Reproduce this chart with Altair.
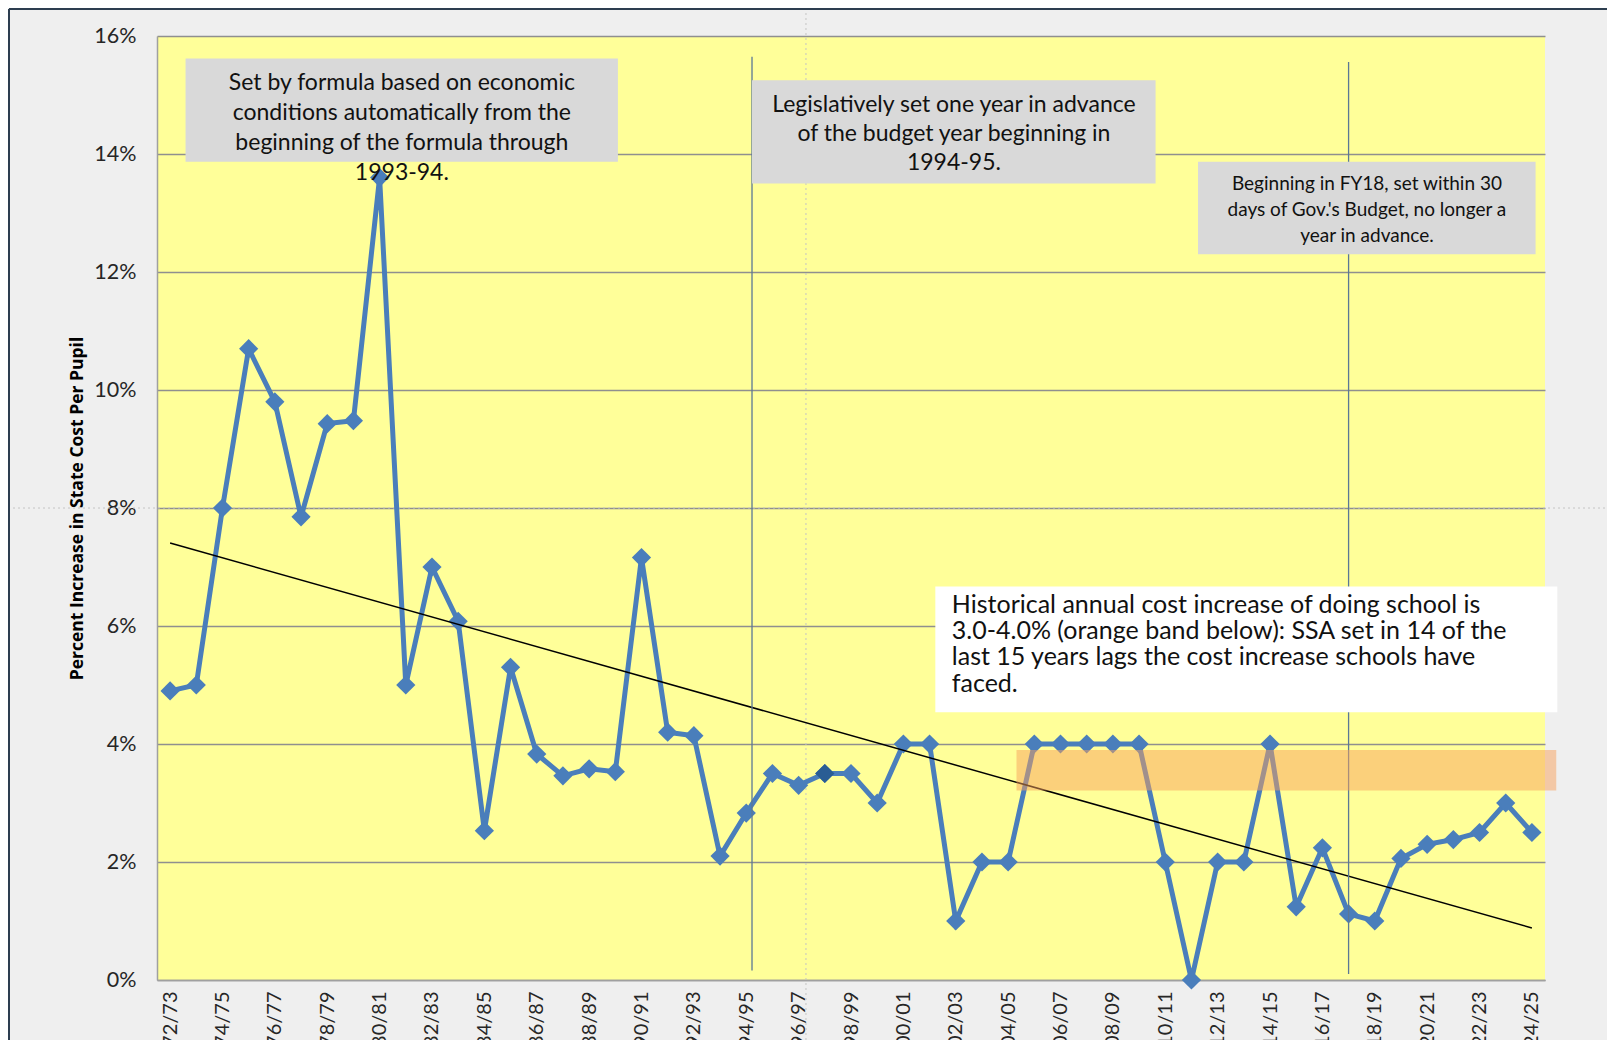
import altair as alt
import pandas as pd

FONT = "Lato"

# ---- data -------------------------------------------------------------
years = ["72/73", "73/74", "74/75", "75/76", "76/77", "77/78", "78/79", "79/80",
         "80/81", "81/82", "82/83", "83/84", "84/85", "85/86", "86/87", "87/88",
         "88/89", "89/90", "90/91", "91/92", "92/93", "93/94", "94/95", "95/96",
         "96/97", "97/98", "98/99", "99/00", "00/01", "01/02", "02/03", "03/04",
         "04/05", "05/06", "06/07", "07/08", "08/09", "09/10", "10/11", "11/12",
         "12/13", "13/14", "14/15", "15/16", "16/17", "17/18", "18/19", "19/20",
         "20/21", "21/22", "22/23", "23/24", "24/25"]
pct_increase = [4.9, 5.0, 8.0, 10.7, 9.8, 7.85, 9.43, 9.48,
                13.6, 5.0, 7.0, 6.08, 2.53, 5.3, 3.83, 3.46,
                3.58, 3.53, 7.16, 4.2, 4.14, 2.1, 2.83, 3.5,
                3.3, 3.5, 3.5, 3.0, 4.0, 4.0, 1.0, 2.0,
                2.0, 4.0, 4.0, 4.0, 4.0, 4.0, 2.0, 0.0,
                2.0, 2.0, 4.0, 1.24, 2.24, 1.12, 1.0, 2.06,
                2.3, 2.38, 2.5, 3.0, 2.5]
highlighted_year = "97/98"
y_ticks = [0, 2, 4, 6, 8, 10, 12, 14, 16]

df = pd.DataFrame({"idx": list(range(len(years))), "year": years, "val": pct_increase})

# annotation layout (in data coordinates)
boxes = pd.DataFrame([
    {"x": 0.59, "x2": 17.1, "y": 15.62, "y2": 13.87, "c": "#d9d9d9"},
    {"x": 22.22, "x2": 37.63, "y": 15.25, "y2": 13.5, "c": "#d9d9d9"},
    {"x": 39.25, "x2": 52.14, "y": 13.87, "y2": 12.3, "c": "#d9d9d9"},
    {"x": 29.22, "x2": 52.97, "y": 6.67, "y2": 4.54, "c": "#ffffff"},
])
rules = pd.DataFrame([
    {"x": 22.22, "y": 15.65, "y2": 0.16},
    {"x": 45.0, "y": 15.56, "y2": 0.1},
])
band = pd.DataFrame([{"x": 32.32, "x2": 52.93, "y": 3.9, "y2": 3.21}])
guide_h = pd.DataFrame([{"y": 8.0}])
guide_v = pd.DataFrame([{"x": 24.28}])

txt1 = "Set by formula based on economic\nconditions automatically from the\nbeginning of the formula through\n1993-94."
txt2 = "Legislatively set one year in advance\nof the budget year beginning in\n1994-95."
txt3 = "Beginning in FY18, set within 30\ndays of Gov.'s Budget, no longer a\nyear in advance."
txt4 = ("Historical annual cost increase of doing school is\n3.0-4.0% (orange band below): SSA set in 14 of the\n"
        "last 15 years lags the cost increase schools have\nfaced.")

# ---- scales / axes ----------------------------------------------------
label_js = "[" + ",".join("'" + y + "'" for y in years) + "]"
xscale = alt.Scale(domain=[-0.5, len(years) - 0.5], nice=False, zero=False)
yscale = alt.Scale(domain=[0, 16], nice=False)
xaxis = alt.Axis(values=list(range(0, len(years), 2)), labelExpr=label_js + "[datum.value]",
                 labelAngle=-90, labelFont=FONT, labelFontSize=20, labelColor="#262626",
                 labelPadding=11, ticks=False, grid=False, title=None,
                 domainColor="#a0a0a0", domainWidth=1.5, labelOverlap=False)
yaxis = alt.Axis(values=y_ticks, labelExpr="datum.value + '%'", labelFont=FONT,
                 labelFontSize=21.5, labelColor="#262626", labelPadding=21, ticks=False,
                 grid=True, gridColor="#8f8f8f", gridWidth=1.3,
                 domainColor="#a0a0a0", domainWidth=1.5,
                 title="Percent Increase in State Cost Per Pupil", titleFont="Open Sans",
                 titleFontSize=17.5, titleFontWeight="bold", titleColor="#000000",
                 titlePadding=7)


def X(f):
    return alt.X(f, type="quantitative", scale=xscale, axis=xaxis)


def Y(f):
    return alt.Y(f, type="quantitative", scale=yscale, axis=yaxis)


base = alt.Chart(df)
gh = alt.Chart(guide_h).mark_rule(color="#c4c4c4", strokeWidth=1, strokeDash=[2, 3]).encode(
    x=alt.value(-149), x2=alt.value(1450), y=Y("y"))
gv = alt.Chart(guide_v).mark_rule(color="#c4c4c4", strokeWidth=1, strokeDash=[2, 3]).encode(
    x=X("x"), y=alt.value(-28), y2=alt.value(1004))
line = base.mark_line(color="#4a7ebb", strokeWidth=5).encode(x=X("idx"), y=Y("val"))
pts = base.mark_point(shape="diamond", filled=True, size=370, color="#4a7ebb", opacity=1).encode(
    x=X("idx"), y=Y("val"))
hl = base.transform_filter(alt.datum.year == highlighted_year).mark_point(
    shape="diamond", filled=True, size=370, color="#2a5d94", opacity=1).encode(x=X("idx"), y=Y("val"))
trend = base.transform_regression("idx", "val", method="linear", extent=[0, len(years) - 1]).mark_line(
    color="#000000", strokeWidth=1.5).encode(x=X("idx"), y=Y("val"))

vrules = alt.Chart(rules).mark_rule(color="#5b7896", strokeWidth=1.3).encode(
    x=X("x"), y=Y("y"), y2="y2")
band_l = alt.Chart(band).mark_rect(color="#f7a25e", opacity=0.5).encode(
    x=X("x"), x2="x2", y=Y("y"), y2="y2")
box_l = alt.Chart(boxes).mark_rect().encode(
    x=X("x"), x2="x2", y=Y("y"), y2="y2", color=alt.Color("c:N", scale=None))


def text_layer(t, x, y, size, lh, align="center"):
    d = pd.DataFrame([{"x": x, "y": y, "t": t}])
    return alt.Chart(d).mark_text(align=align, baseline="middle", font=FONT, fontSize=size,
                                  lineHeight=lh, lineBreak="\n", color="#111111").encode(
        x=X("x"), y=Y("y"), text="t:N")


t1 = text_layer(txt1, 8.85, 15.2, 23, 30)
t2 = text_layer(txt2, 29.93, 14.83, 23, 29)
t3 = text_layer(txt3, 45.7, 13.5, 19, 26)
t4 = text_layer(txt4, 29.85, 6.36, 25, 26.3, align="left")

frame_top = alt.Chart(df).mark_rule(color="#2d3e50", strokeWidth=2).encode(
    x=alt.value(-148), x2=alt.value(1450), y=alt.value(-27))
frame_left = alt.Chart(df).mark_rule(color="#2d3e50", strokeWidth=2).encode(
    x=alt.value(-148), y=alt.value(-27), y2=alt.value(1004))

chart = alt.layer(gh, gv, line, pts, hl, trend, vrules, band_l, box_l, t1, t2, t3, t4,
                  frame_top, frame_left).properties(
    width=1388, height=944,
    autosize=alt.AutoSizeParams(type="none"),
    padding={"left": 149, "top": 28, "right": 62, "bottom": 60},
    background="#efefef",
).configure_view(fill="#ffff99", stroke=None)

chart.save("out.html", embed_options={"renderer": "svg", "actions": False})
